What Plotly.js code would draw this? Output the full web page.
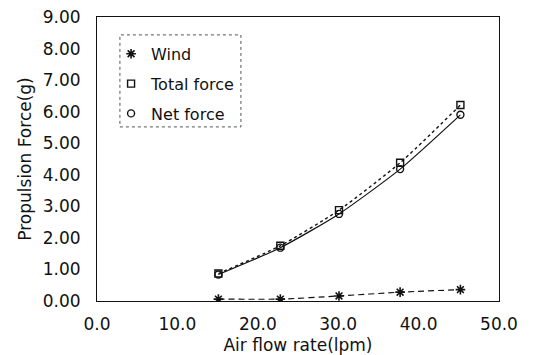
<!DOCTYPE html>
<html>
<head>
<meta charset="utf-8">
<script src="https://cdn.plot.ly/plotly-3.0.1.min.js"></script>
<style>
html,body{margin:0;padding:0;background:#fff;}
#chart{width:534px;height:355px;}
</style>
</head>
<body>
<div id="chart"></div>
<script>
const flowRate = [15.1, 22.8, 30.1, 37.7, 45.2];
const windForce = [0.06, 0.06, 0.16, 0.28, 0.36];
const totalForce = [0.87, 1.75, 2.88, 4.38, 6.21];
const netForce = [0.84, 1.69, 2.76, 4.18, 5.90];
const xTicks = [0, 10, 20, 30, 40, 50];
const xTickText = ['0.0', '10.0', '20.0', '30.0', '40.0', '50.0'];
const yTicks = [0, 1, 2, 3, 4, 5, 6, 7, 8, 9];
const yTickText = ['0.00', '1.00', '2.00', '3.00', '4.00', '5.00', '6.00', '7.00', '8.00', '9.00'];

const FONT = 'DejaVu Sans, Verdana, sans-serif';
const black = '#111';

const traces = [
  {x: flowRate, y: windForce, mode: 'lines', line: {color: black, width: 1.2, dash: '6px,4px', shape: 'spline', smoothing: 0.6}, showlegend: false, hoverinfo: 'skip'},
  {x: flowRate, y: totalForce, mode: 'lines', line: {color: black, width: 1.4, dash: 'dot', shape: 'spline', smoothing: 0.6}, showlegend: false, hoverinfo: 'skip'},
  {x: flowRate, y: netForce, mode: 'lines', line: {color: black, width: 1.2, shape: 'spline', smoothing: 0.6}, showlegend: false, hoverinfo: 'skip'},
  {x: flowRate, y: windForce, mode: 'markers', name: 'Wind', legendgroup: 'a', marker: {symbol: 'asterisk-open', size: 8, color: black, line: {color: black, width: 1.6}}},
  {x: flowRate, y: totalForce, mode: 'markers', name: 'Total force', legendgroup: 'b', marker: {symbol: 'square-open', size: 7, color: black, line: {color: black, width: 1.4}}},
  {x: flowRate, y: netForce, mode: 'markers', name: 'Net force', legendgroup: 'c', marker: {symbol: 'circle-open', size: 7, color: black, line: {color: black, width: 1.4}}}
];

const layout = {
  width: 534, height: 355,
  margin: {l: 97, r: 35, t: 17, b: 54},
  paper_bgcolor: '#fff', plot_bgcolor: '#fff',
  font: {family: FONT, color: black, size: 17},
  showlegend: true,
  legend: {
    x: 0.035, y: 0.93, xanchor: 'left', yanchor: 'top',
    bgcolor: 'rgba(0,0,0,0)', borderwidth: 0,
    font: {family: FONT, size: 16, color: black},
    traceorder: 'grouped', tracegroupgap: 6
  },
  xaxis: {
    range: [0, 50], tickvals: xTicks, ticktext: xTickText,
    showgrid: false, zeroline: false,
    showline: true, linecolor: black, linewidth: 1, mirror: true,
    ticks: '', ticklabelstandoff: 8,
    tickfont: {family: FONT, size: 17, color: black},
    title: {text: 'Air flow rate(lpm)', font: {family: FONT, size: 17, color: black}, standoff: 5}
  },
  yaxis: {
    range: [0, 9], tickvals: yTicks, ticktext: yTickText,
    showgrid: false, zeroline: false,
    showline: true, linecolor: black, linewidth: 1, mirror: true,
    ticks: '', ticklabelstandoff: 12,
    tickfont: {family: FONT, size: 17, color: black},
    title: {text: 'Propulsion Force(g)', font: {family: FONT, size: 17, color: black}, standoff: 6}
  },
  shapes: [
    {type: 'rect', xref: 'paper', yref: 'paper', x0: 0.057, x1: 0.358, y0: 0.613, y1: 0.937,
     line: {color: '#555', width: 1, dash: 'dot'}, fillcolor: 'rgba(0,0,0,0)'}
  ]
};

Plotly.newPlot('chart', traces, layout, {displayModeBar: false, staticPlot: true});
</script>
</body>
</html>
